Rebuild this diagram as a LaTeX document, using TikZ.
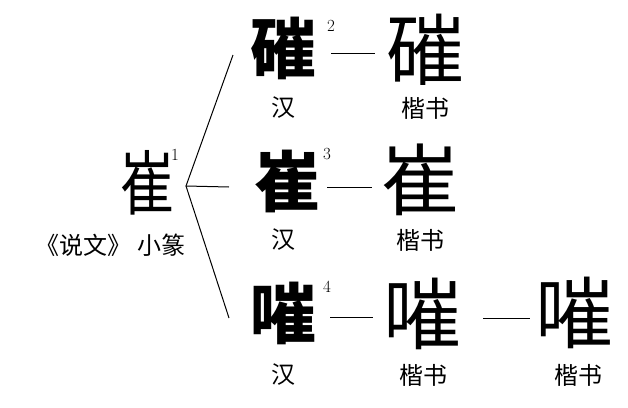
\documentclass[tikz,border=0pt]{standalone}
\usepackage{fontspec}
\newfontfamily\cjk{Noto Sans CJK SC}
\begin{document}
\begin{tikzpicture}[x=1pt,y=-1pt,
  big/.style={inner sep=0pt,font=\cjk\fontsize{78}{78}\selectfont},
  han/.style={inner sep=0pt,font=\cjk\bfseries\fontsize{66}{66}\selectfont},
  lab/.style={inner sep=0pt,font=\cjk\fontsize{24}{24}\selectfont},
  num/.style={inner sep=0pt,font=\fontsize{17}{17}\selectfont},
  conn/.style={line width=1pt,black}]
\useasboundingbox (0,0) rectangle (628,407);
% source
\node[inner sep=0pt,font=\cjk\fontsize{54}{54}\selectfont,yscale=1.3] (s) at (147,183) {崔};
\node[num] (n1) at (175,155) {1};
\node[lab] (sl) at (110,245) {《说文》\hspace{6pt}小篆};
\coordinate (v) at (186,186);
\coordinate (t1) at (233,55);
\coordinate (t2) at (229,187);
\coordinate (t3) at (229,318);
\draw[conn] (t1) -- (v) -- (t3);
\draw[conn] (v) -- (t2);
% row 1
\node[han] (a1) at (283,48) {磪};
\node[num] (n2) at (331,26) {2};
\node[big] (b1) at (425,50) {磪};
\draw[conn] (331,53) coordinate (d1a) -- (375,53) coordinate (d1b);
\node[lab] (a1l) at (283,108) {汉};
\node[lab] (b1l) at (425,108) {楷书};
% row 2
\node[han] (a2) at (287,181) {崔};
\node[num] (n3) at (327,154) {3};
\node[big] (b2) at (420,180) {崔};
\draw[conn] (327,187) coordinate (d2a) -- (372,187) coordinate (d2b);
\node[lab] (a2l) at (283,240) {汉};
\node[lab] (b2l) at (420,240) {楷书};
% row 3
\node[han] (a3) at (283,313) {嗺};
\node[num] (n4) at (327,287) {4};
\node[big] (b3) at (422,314) {嗺};
\draw[conn] (330,317) coordinate (d3a) -- (373,317) coordinate (d3b);
\node[big] (c3) at (574,313) {嗺};
\draw[conn] (483,318) coordinate (d4a) -- (530,318) coordinate (d4b);
\node[lab] (a3l) at (283,375) {汉};
\node[lab] (b3l) at (423,375) {楷书};
\node[lab] (c3l) at (578,375) {楷书};
\end{tikzpicture}
\end{document}
